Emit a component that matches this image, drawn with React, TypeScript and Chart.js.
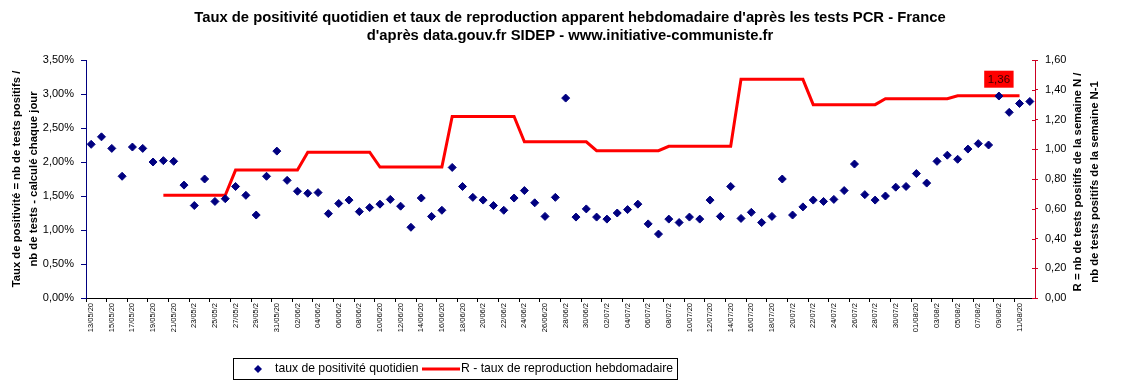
import React, { useEffect, useRef } from 'react';
import { Chart, registerables } from 'chart.js';

Chart.register(...registerables);

const FONT = '"Liberation Sans", Arial, Helvetica, sans-serif';

const TITLE_LINES = [
  "Taux de positivité quotidien et taux de reproduction apparent hebdomadaire d'après les tests PCR - France",
  "d'après data.gouv.fr SIDEP - www.initiative-communiste.fr",
];
const LEFT_TITLE = ['Taux de positivité = nb de tests positifs /', 'nb de tests - calculé chaque jour'];
const RIGHT_TITLE = ['R = nb de tests positifs de la semaine N /', 'nb de tests positifs de la semaine N-1'];
const LEGEND_LABELS = ['taux de positivité quotidien', 'R - taux de reproduction hebdomadaire'];

// 92 daily categories: 13/05/20 .. 12/08/20
const START_DATE = [2020, 4, 13];
const DAY_COUNT = 92;

// Displayed tick labels (every second day, as truncated in the original)
const TICK_LABELS = [
  '13/05/20', '15/05/20', '17/05/20', '19/05/20', '21/05/20', '23/05/2', '25/05/2', '27/05/2', '29/05/2', '31/05/20',
  '02/06/2', '04/06/2', '06/06/2', '08/06/2', '10/06/20', '12/06/20', '14/06/20', '16/06/20', '18/06/20', '20/06/2',
  '22/06/2', '24/06/2', '26/06/20', '28/06/2', '30/06/2', '02/07/2', '04/07/2', '06/07/2', '08/07/2', '10/07/20',
  '12/07/20', '14/07/20', '16/07/20', '18/07/20', '20/07/2', '22/07/2', '24/07/2', '26/07/2', '28/07/2', '30/07/2',
  '01/08/20', '03/08/2', '05/08/2', '07/08/2', '09/08/2', '11/08/20',
];

// Daily positivity rate (%)
const POSITIVITY = [
  2.26, 2.37, 2.20, 1.79, 2.22, 2.20, 2.00, 2.02, 2.01, 1.66,
  1.36, 1.75, 1.42, 1.46, 1.64, 1.51, 1.22, 1.79, 2.16, 1.73,
  1.57, 1.54, 1.55, 1.24, 1.39, 1.44, 1.27, 1.33, 1.38, 1.45,
  1.35, 1.04, 1.47, 1.20, 1.29, 1.92, 1.64, 1.48, 1.44, 1.36,
  1.29, 1.47, 1.58, 1.40, 1.20, 1.48, 2.94, 1.19, 1.31, 1.19,
  1.16, 1.25, 1.30, 1.38, 1.09, 0.94, 1.16, 1.11, 1.19, 1.16,
  1.44, 1.20, 1.64, 1.17, 1.26, 1.11, 1.20, 1.75, 1.22, 1.34,
  1.44, 1.42, 1.45, 1.58, 1.97, 1.52, 1.44, 1.50, 1.63, 1.64,
  1.83, 1.69, 2.01, 2.10, 2.04, 2.19, 2.27, 2.25, 2.97, 2.73,
  2.86, 2.89,
];

// Weekly apparent reproduction rate R
const R_VALUES = [
  null, null, null, null, null, null, null,
  0.69, 0.69, 0.69, 0.69, 0.69, 0.69, 0.69,
  0.86, 0.86, 0.86, 0.86, 0.86, 0.86, 0.86,
  0.98, 0.98, 0.98, 0.98, 0.98, 0.98, 0.98,
  0.88, 0.88, 0.88, 0.88, 0.88, 0.88, 0.88,
  1.22, 1.22, 1.22, 1.22, 1.22, 1.22, 1.22,
  1.05, 1.05, 1.05, 1.05, 1.05, 1.05, 1.05,
  0.99, 0.99, 0.99, 0.99, 0.99, 0.99, 0.99,
  1.02, 1.02, 1.02, 1.02, 1.02, 1.02, 1.02,
  1.47, 1.47, 1.47, 1.47, 1.47, 1.47, 1.47,
  1.30, 1.30, 1.30, 1.30, 1.30, 1.30, 1.30,
  1.34, 1.34, 1.34, 1.34, 1.34, 1.34, 1.34,
  1.36, 1.36, 1.36, 1.36, 1.36, 1.36, 1.36,
  null,
];
const R_LABEL_INDEX = 88;

function buildCategories(): string[] {
  const out: string[] = [];
  const d = new Date(START_DATE[0], START_DATE[1], START_DATE[2]);
  for (let i = 0; i < DAY_COUNT; i++) {
    const dd = String(d.getDate()).padStart(2, '0');
    const mm = String(d.getMonth() + 1).padStart(2, '0');
    out.push(`${dd}/${mm}/20`);
    d.setDate(d.getDate() + 1);
  }
  return out;
}

const NAVY = '#000080';
const RED = '#ff0000';
const AXIS_RED = '#cc0022';

const decorPlugin = {
  id: 'decor',
  afterDraw(chart: any) {
    const ctx = chart.ctx as CanvasRenderingContext2D;
    const area = chart.chartArea;
    ctx.save();
    // Title
    ctx.fillStyle = '#000';
    ctx.textAlign = 'center';
    ctx.textBaseline = 'middle';
    ctx.font = `bold 14.8px ${FONT}`;
    TITLE_LINES.forEach((t, i) => ctx.fillText(t, 570, 18 + i * 18));

    // Axis titles (rotated, reading bottom to top)
    ctx.font = `bold 11.3px ${FONT}`;
    const rot = (lines: string[], xs: number[], cy: number) => {
      lines.forEach((t, i) => {
        ctx.save();
        ctx.translate(xs[i], cy);
        ctx.rotate(-Math.PI / 2);
        ctx.fillText(t, 0, 0);
        ctx.restore();
      });
    };
    rot(LEFT_TITLE, [17, 34], 179);
    rot(RIGHT_TITLE, [1078, 1095], 182);

    // Inner tick marks on right axis
    const y1 = chart.scales.y1;
    ctx.strokeStyle = AXIS_RED;
    ctx.lineWidth = 1;
    y1.ticks.forEach((tk: any) => {
      const y = Math.round(y1.getPixelForValue(tk.value)) + 0.5;
      ctx.beginPath();
      ctx.moveTo(area.right - 3, y);
      ctx.lineTo(area.right, y);
      ctx.stroke();
    });

    // Data label "1,36"
    const meta = chart.getDatasetMeta(1);
    const pt = meta.data[R_LABEL_INDEX];
    if (pt) {
      const txt = (R_VALUES[R_LABEL_INDEX] as number).toFixed(2).replace('.', ',');
      ctx.font = `11.5px ${FONT}`;
      const w = ctx.measureText(txt).width + 7;
      const h = 17;
      const bx = pt.x - w / 2;
      const by = pt.y - 8 - h;
      ctx.fillStyle = RED;
      ctx.fillRect(bx, by, w, h);
      ctx.fillStyle = '#3a0000';
      ctx.textAlign = 'center';
      ctx.fillText(txt, pt.x, by + h / 2 + 0.5);
    }

    // Legend
    ctx.strokeStyle = '#000';
    ctx.lineWidth = 1;
    ctx.strokeRect(233.5, 358.5, 444, 21);
    const ly = 369;
    ctx.fillStyle = NAVY;
    ctx.beginPath();
    ctx.moveTo(258, ly - 4);
    ctx.lineTo(262, ly);
    ctx.lineTo(258, ly + 4);
    ctx.lineTo(254, ly);
    ctx.closePath();
    ctx.fill();
    ctx.fillStyle = '#000';
    ctx.textAlign = 'left';
    ctx.font = `12.2px ${FONT}`;
    ctx.fillText(LEGEND_LABELS[0], 275, ly);
    ctx.strokeStyle = RED;
    ctx.lineWidth = 3;
    ctx.beginPath();
    ctx.moveTo(422, ly);
    ctx.lineTo(460, ly);
    ctx.stroke();
    ctx.fillText(LEGEND_LABELS[1], 461, ly);
    ctx.restore();
  },
};

export default function App() {
  const ref = useRef<HTMLCanvasElement>(null);
  useEffect(() => {
    const categories = buildCategories();
    const chart = new Chart(ref.current as HTMLCanvasElement, {
      type: 'line',
      data: {
        labels: categories,
        datasets: [
          {
            type: 'line',
            label: LEGEND_LABELS[0],
            data: POSITIVITY,
            yAxisID: 'y',
            showLine: false,
            pointStyle: 'rectRot',
            pointRadius: 4,
            backgroundColor: NAVY,
            borderColor: NAVY,
            borderWidth: 1,
          },
          {
            type: 'line',
            label: LEGEND_LABELS[1],
            data: R_VALUES as any,
            yAxisID: 'y1',
            borderColor: RED,
            backgroundColor: RED,
            borderWidth: 3,
            pointRadius: 0,
            tension: 0,
            spanGaps: false,
          },
        ],
      },
      options: {
        animation: false,
        responsive: false,
        events: [],
        layout: { padding: { top: 60, bottom: 0, left: 0, right: 0 } },
        font: { family: FONT } as any,
        plugins: {
          legend: { display: false },
          title: { display: false },
          tooltip: { enabled: false },
        },
        scales: {
          x: {
            type: 'category',
            offset: true,
            grid: {
              display: true,
              drawOnChartArea: false,
              offset: true,
              tickLength: 4,
              tickColor: (c: any) => (c.index % 2 === 0 ? '#000' : 'rgba(0,0,0,0)'),
            },
            border: { color: '#000', width: 1 },
            ticks: {
              autoSkip: false,
              minRotation: 90,
              maxRotation: 90,
              padding: 1,
              color: '#000',
              font: { size: 7.5, family: FONT },
              callback: (_v: any, i: number) => (i % 2 === 0 ? TICK_LABELS[i / 2] ?? '' : ''),
            },
            afterFit: (s: any) => {
              s.height = 85;
            },
          },
          y: {
            position: 'left',
            min: 0,
            max: 3.5,
            grid: { drawOnChartArea: false, tickLength: 5, color: NAVY, tickColor: NAVY },
            border: { color: NAVY, width: 1 },
            ticks: {
              stepSize: 0.5,
              padding: 7,
              color: '#000',
              font: { size: 11, family: FONT },
              callback: (v: any) => Number(v).toFixed(2).replace('.', ',') + '%',
            },
            afterFit: (s: any) => {
              s.width = 86;
            },
          },
          y1: {
            position: 'right',
            min: 0,
            max: 1.6,
            grid: { drawOnChartArea: false, tickLength: 3, color: AXIS_RED, tickColor: AXIS_RED },
            border: { color: AXIS_RED, width: 1 },
            ticks: {
              stepSize: 0.2,
              padding: 7,
              color: '#000',
              font: { size: 11, family: FONT },
              callback: (v: any) => Number(v).toFixed(2).replace('.', ','),
            },
            afterFit: (s: any) => {
              s.width = 90;
            },
          },
        },
      },
      plugins: [decorPlugin],
    });
    return () => chart.destroy();
  }, []);
  return (
    <div style={{ position: 'absolute', left: 0, top: 0, width: 1125, height: 383, background: '#fff' }}>
      <canvas ref={ref} width={1125} height={383} style={{ width: 1125, height: 383, display: 'block' }} />
    </div>
  );
}
